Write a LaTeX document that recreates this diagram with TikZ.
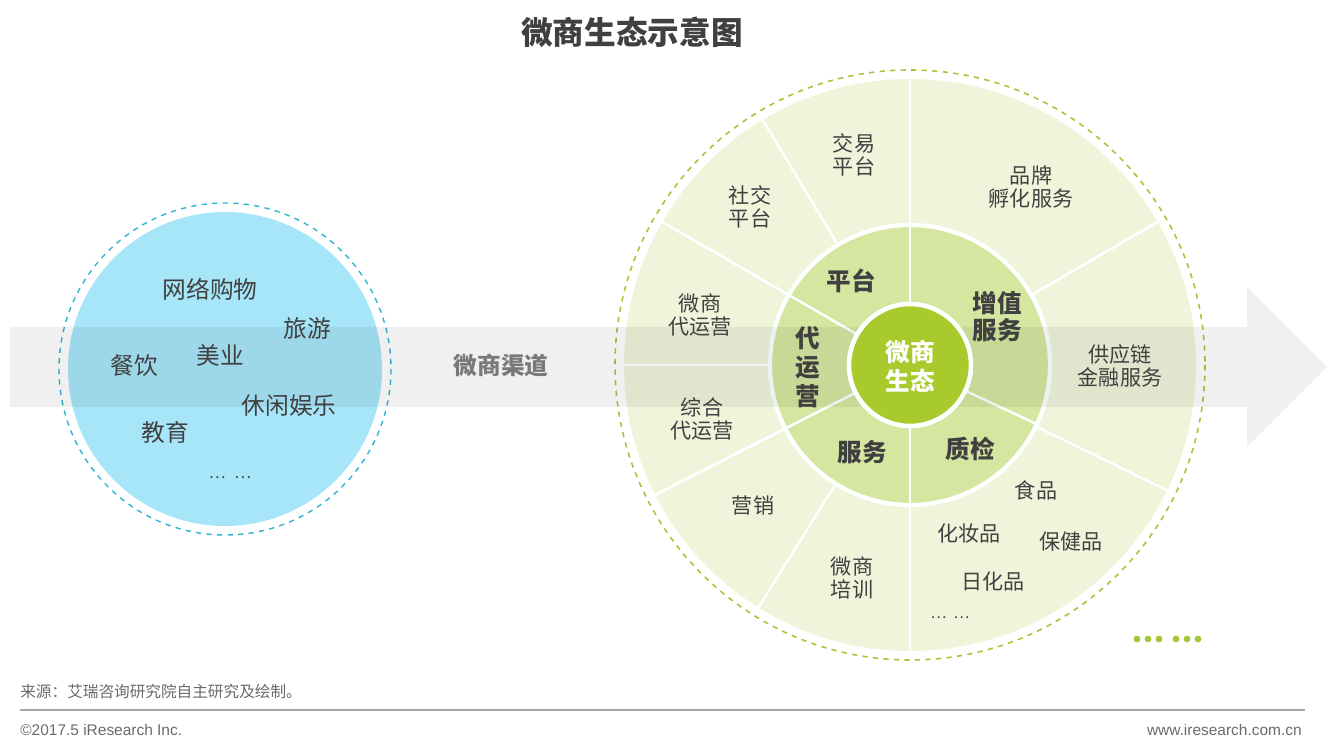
\documentclass[tikz,border=0pt]{standalone}
\usepackage{fontspec}
\setmainfont{Noto Sans CJK SC}
\newfontfamily\lat{Liberation Sans}
\definecolor{ringout}{HTML}{EFF5DA}
\definecolor{ringmid}{HTML}{D5E6A0}
\definecolor{core}{HTML}{A8CA2C}
\definecolor{gdash}{HTML}{A6C63A}
\definecolor{bfill}{HTML}{A6E6F8}
\definecolor{bdash}{HTML}{30B4D4}
\definecolor{txt}{HTML}{404040}
\definecolor{foot}{HTML}{6A6A6A}
\begin{document}
\begin{tikzpicture}[x=0.02cm,y=-0.02cm,
  lbl/.style={text=txt,font=\fontsize{13.5pt}{16pt}\selectfont,inner sep=0pt},
  olbl/.style={text=txt,font=\fontsize{12pt}{13.4pt}\selectfont,align=center,inner sep=0pt},
  mlbl/.style={text=txt,font=\bfseries\fontsize{14pt}{15.4pt}\selectfont,align=center,inner sep=0pt},
  divider/.style={white,line width=1.4pt},
  dot/.style={fill=gdash,draw=none}]
\useasboundingbox (0,0) rectangle (1335,749);
% blue circle
\fill[bfill] (225,369) circle[radius=157];
\draw[bdash,dashed,line width=0.8pt] (225,369) circle[radius=166];
% green circle
\coordinate (C) at (910,365);
\fill[ringout] (C) circle[radius=286];
\draw[gdash,dashed,line width=0.9pt] (C) circle[radius=295];
\begin{scope}[shift={(910,365)}]
  \foreach \a in {90,121,150,180,207,238,270,334,30}
    \draw[divider] (-\a:139) -- (-\a:287);
  \fill[ringmid] (0,0) circle[radius=140];
  \draw[white,line width=2.4pt] (0,0) circle[radius=140];
  \foreach \a in {90,150,207,270,335}
    \draw[divider] (-\a:62) -- (-\a:140);
\end{scope}
% arrow band
\fill[black,opacity=0.06] (10,327) -- (1247,327) -- (1247,287) -- (1327,367) -- (1247,447) -- (1247,407) -- (10,407) -- cycle;
% core
\fill[core] (C) circle[radius=61];
\draw[white,line width=2.6pt] (C) circle[radius=61];
% title
\node[text=txt,font=\bfseries\fontsize{18pt}{20pt}\selectfont] (title) at (632,32) {微商生态示意图};
% left circle labels
\node[lbl] (l1) at (210,289) {网络购物};
\node[lbl] (l2) at (307,328) {旅游};
\node[lbl] (l3) at (220,355) {美业};
\node[lbl] (l4) at (134,366) {餐饮};
\node[lbl] (l5) at (289,406) {休闲娱乐};
\node[lbl] (l6) at (165,432) {教育};
\node[text=txt,font=\fontsize{9pt}{10pt}\selectfont] (l7) at (230,478) {…\hspace{5pt}…};
% channel
\node[text=foot!90,font=\bfseries\fontsize{13.5pt}{16pt}\selectfont] (ch) at (501,366) {微商渠道};
% core text
\node[text=white,font=\bfseries\fontsize{14pt}{16.5pt}\selectfont,align=center] (core) at (910,366) {微商\\生态};
% middle ring
\node[mlbl] (m1) at (851,281) {平台};
\node[mlbl] (m2) at (997,317) {增值\\服务};
\node[mlbl,font=\bfseries\fontsize{14pt}{16.5pt}\selectfont] (m3) at (808,367) {代\\运\\营};
\node[mlbl] (m4) at (862,452) {服务};
\node[mlbl] (m5) at (970,449) {质检};
% outer ring
\node[olbl] (o1) at (854,155) {交易\\平台};
\node[olbl] (o2) at (750,207) {社交\\平台};
\node[olbl] (o3) at (1031,187) {品牌\\孵化服务};
\node[olbl] (o4) at (700,315) {微商\\代运营};
\node[olbl] (o5) at (1120,366) {供应链\\金融服务};
\node[olbl] (o6) at (702,419) {综合\\代运营};
\node[olbl] (o7) at (753,506) {营销};
\node[olbl] (o8) at (852,578) {微商\\培训};
\node[olbl] (o9) at (1036,490) {食品};
\node[olbl] (o10) at (969,533) {化妆品};
\node[olbl] (o11) at (1071,541) {保健品};
\node[olbl] (o12) at (993,581) {日化品};
\node[text=txt,font=\fontsize{8.5pt}{9pt}\selectfont] (o13) at (950,618) {…\hspace{4pt}…};
% dots
\foreach \x in {1137,1148,1159,1176,1187,1198}
  \fill[dot] (\x,639) circle[radius=3.4];
% footer
\node[text=foot,font=\fontsize{8.9pt}{10pt}\selectfont,anchor=west,inner sep=0pt] (src) at (20,692) {来源：艾瑞咨询研究院自主研究及绘制。};
\draw[gray!70,line width=0.8pt] (20,710) coordinate (fl) -- (1305,710) coordinate (fr);
\node[text=foot,font=\lat\fontsize{8.8pt}{10pt}\selectfont,anchor=west,inner sep=0pt] (copy) at (20,730) {©2017.5 iResearch Inc.};
\node[text=foot,font=\lat\fontsize{8.8pt}{10pt}\selectfont,anchor=east,inner sep=0pt] (web) at (1302,730) {www.iresearch.com.cn};
\end{tikzpicture}
\end{document}
